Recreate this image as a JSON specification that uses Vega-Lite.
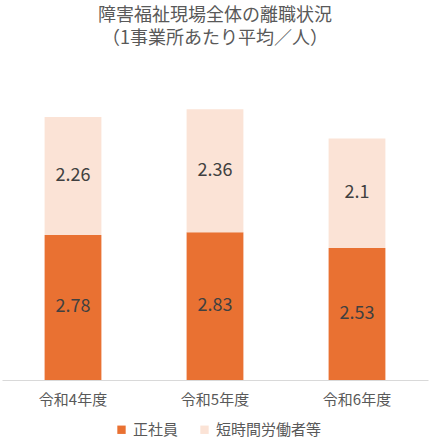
{
  "$schema": "https://vega.github.io/schema/vega-lite/v6.json",
  "description": "障害福祉現場全体の離職状況",
  "autosize": "none",
  "width": 426,
  "height": 313,
  "padding": {"left": 2, "top": 67, "right": 2, "bottom": 62},
  "title": {
    "text": ["障害福祉現場全体の離職状況", "（1事業所あたり平均／人）"],
    "font": "Noto Sans CJK JP",
    "fontSize": 18,
    "fontWeight": "normal",
    "color": "#595959",
    "lineHeight": 23,
    "anchor": "middle",
    "offset": 19
  },
  "data": {
    "values": [
      {"year": "令和4年度", "type": "正社員", "value": 2.78},
      {"year": "令和4年度", "type": "短時間労働者等", "value": 2.26},
      {"year": "令和5年度", "type": "正社員", "value": 2.83},
      {"year": "令和5年度", "type": "短時間労働者等", "value": 2.36},
      {"year": "令和6年度", "type": "正社員", "value": 2.53},
      {"year": "令和6年度", "type": "短時間労働者等", "value": 2.1}
    ]
  },
  "transform": [
    {"stack": "value", "groupby": ["year"], "sort": [{"field": "type"}], "as": ["v0", "v1"]},
    {"calculate": "(datum.v0 + datum.v1) / 2", "as": "mid"}
  ],
  "encoding": {
    "x": {
      "field": "year",
      "type": "nominal",
      "sort": null,
      "scale": {"paddingInner": 0, "paddingOuter": 0},
      "axis": {
        "title": null,
        "labelAngle": 0,
        "ticks": false,
        "domainColor": "#D9D9D9",
        "labelFont": "Noto Sans CJK JP",
        "labelFontSize": 15,
        "labelColor": "#595959",
        "labelPadding": 12
      }
    }
  },
  "layer": [
    {
      "mark": {"type": "bar", "width": {"band": 0.4}},
      "encoding": {
        "y": {"field": "v0", "type": "quantitative", "scale": {"domain": [0, 6]}, "axis": null},
        "y2": {"field": "v1"},
        "color": {
          "field": "type",
          "type": "nominal",
          "scale": {"domain": ["正社員", "短時間労働者等"], "range": ["#E97132", "#FBE3D6"]},
          "legend": {
            "title": null,
            "orient": "none",
            "legendX": 112,
            "legendY": 355,
            "direction": "horizontal",
            "symbolType": "square",
            "symbolSize": 70,
            "symbolStrokeWidth": 0,
            "labelFont": "Noto Sans CJK JP",
            "labelFontSize": 15,
            "labelColor": "#595959",
            "columnPadding": 18
          }
        }
      }
    },
    {
      "mark": {"type": "text", "font": "Noto Sans CJK JP", "fontSize": 18, "color": "#404040", "baseline": "middle"},
      "encoding": {
        "y": {"field": "mid", "type": "quantitative"},
        "text": {"field": "value", "type": "quantitative"}
      }
    }
  ],
  "config": {"view": {"stroke": null}}
}
